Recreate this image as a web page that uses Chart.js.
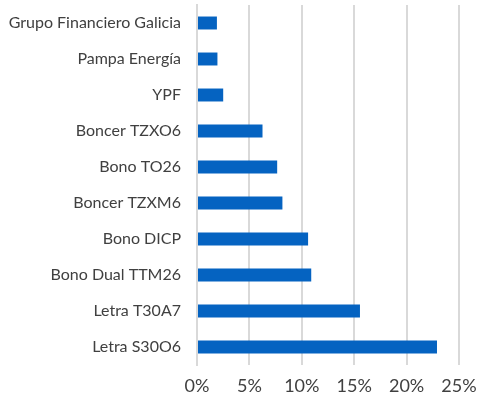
<!DOCTYPE html>
<html>
<head>
<meta charset="utf-8">
<script src="https://cdn.jsdelivr.net/npm/chart.js@4/dist/chart.umd.min.js"></script>
<style>
html,body{margin:0;padding:0;background:#fff;}
#wrap{width:478px;height:401px;position:relative;}
</style>
</head>
<body>
<div id="wrap"><canvas id="c"></canvas></div>
<script>
const categories = ["Grupo Financiero Galicia","Pampa Energía","YPF","Boncer TZXO6","Bono TO26","Boncer TZXM6","Bono DICP","Bono Dual TTM26","Letra T30A7","Letra S30O6"];
const values = [1.9, 1.95, 2.5, 6.25, 7.65, 8.15, 10.6, 10.9, 15.55, 22.9];
const tickValues = [0, 5, 10, 15, 20, 25];

function zeroPad(s) { s.paddingTop = 0; s.paddingBottom = 0; s.paddingLeft = 0; s.paddingRight = 0; }

new Chart(document.getElementById('c'), {
  type: 'bar',
  data: {
    labels: categories,
    datasets: [{
      data: values,
      backgroundColor: '#0563C1',
      borderWidth: 0,
      categoryPercentage: 1,
      barPercentage: 0.36
    }]
  },
  options: {
    indexAxis: 'y',
    responsive: true,
    maintainAspectRatio: false,
    animation: false,
    layout: { autoPadding: false, padding: { top: 5, right: 19, bottom: 0, left: 0 } },
    plugins: { legend: { display: false }, tooltip: { enabled: false } },
    scales: {
      x: {
        min: 0, max: 25,
        afterBuildTicks: s => { s.ticks = tickValues.map(v => ({ value: v })); },
        afterFit: s => { s.height = 36; zeroPad(s); },
        grid: { color: '#d9d9d9', lineWidth: 2, drawTicks: false },
        border: { display: false },
        ticks: {
          padding: 10,
          color: '#404040',
          font: { family: 'Lato', size: 18 },
          callback: v => v + '%'
        }
      },
      y: {
        afterFit: s => { s.width = 197; zeroPad(s); },
        grid: { display: false, drawTicks: false },
        border: { display: true, color: '#d9d9d9', width: 2 },
        ticks: {
          padding: 16,
          color: '#404040',
          font: { family: 'Lato', size: 16 }
        }
      }
    }
  }
});
</script>
</body>
</html>
